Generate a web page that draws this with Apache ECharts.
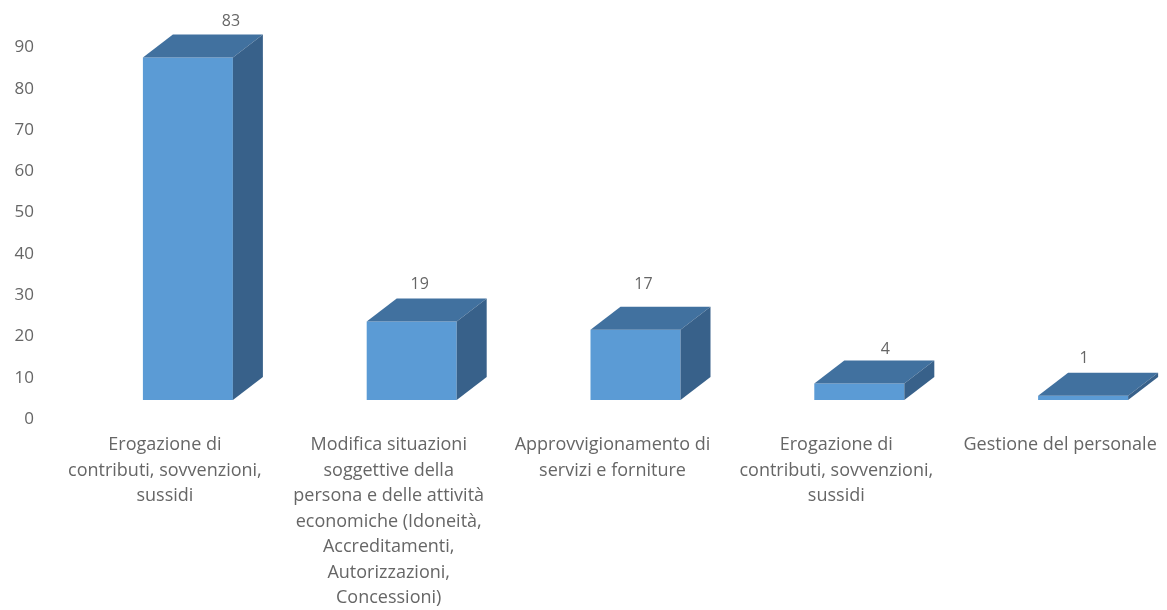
<!DOCTYPE html>
<html>
<head>
<meta charset="utf-8">
<style>html,body{margin:0;padding:0;background:#fff}#c{width:1167px;height:610px}</style>
<script src="https://cdn.jsdelivr.net/npm/echarts@6/dist/echarts.min.js"></script>
</head>
<body>
<div id="c"></div>
<script>
var categories = [
  "Erogazione di\ncontributi, sovvenzioni,\nsussidi",
  "Modifica situazioni\nsoggettive della\npersona e delle attività\neconomiche (Idoneità,\nAccreditamenti,\nAutorizzazioni,\nConcessioni)",
  "Approvvigionamento di\nservizi e forniture",
  "Erogazione di\ncontributi, sovvenzioni,\nsussidi",
  "Gestione del personale"
];
var values = [83, 19, 17, 4, 1];
var yTicks = { min: 0, max: 90, interval: 10 };

// visual style of the pseudo-3D bars
var FRONT = '#5b9bd5', TOP = '#41719f', SIDE = '#38618a', TEXT = '#666666';
var FONT = '"Open Sans", "Noto Sans", sans-serif';
var barW = 90, depthX = 30, depthY = 23, lift = 19, shiftX = 23;
// hand-placed data label nudges of the reference (dx, dy from the back top edge centre)
var labelNudge = [[13, -13], [-22, -14], [-22, -22], [-4, -11], [-29, -14]];

var chart = echarts.init(document.getElementById('c'), null, { renderer: 'canvas' });
chart.setOption({
  animation: false,
  backgroundColor: '#ffffff',
  grid: { left: 53, top: 47.5, width: 1119, height: 371.5, containLabel: false, outerBoundsMode: 'none' },
  xAxis: {
    type: 'category',
    data: categories,
    axisLine: { show: false },
    axisTick: { show: false },
    axisLabel: {
      interval: 0, color: TEXT, fontFamily: FONT, fontSize: 18,
      lineHeight: 25.5, margin: 13.5, verticalAlign: 'top', hideOverlap: false
    }
  },
  yAxis: {
    type: 'value',
    min: yTicks.min, max: yTicks.max, interval: yTicks.interval,
    axisLine: { show: false },
    axisTick: { show: false },
    splitLine: { show: false },
    axisLabel: { color: TEXT, fontFamily: FONT, fontSize: 17, margin: 19, align: 'right' }
  },
  series: [{
    type: 'custom',
    coordinateSystem: 'cartesian2d',
    data: values.map(function (v, i) { return [i, v]; }),
    encode: { x: 0, y: 1 },
    clip: false,
    renderItem: function (params, api) {
      var i = api.value(0), v = api.value(1);
      var base = api.coord([i, 0]), peak = api.coord([i, v]);
      var x0 = base[0] + shiftX - barW / 2, x1 = x0 + barW;
      var yb = base[1] - lift, yt = peak[1] - lift;
      var n = labelNudge[i];
      return {
        type: 'group',
        children: [
          { type: 'rect', shape: { x: x0, y: yt, width: barW, height: yb - yt }, style: { fill: FRONT } },
          { type: 'polygon', shape: { points: [[x0, yt], [x0 + depthX, yt - depthY], [x1 + depthX, yt - depthY], [x1, yt]] }, style: { fill: TOP } },
          { type: 'polygon', shape: { points: [[x1, yt], [x1 + depthX, yt - depthY], [x1 + depthX, yb - depthY], [x1, yb]] }, style: { fill: SIDE } },
          { type: 'text', style: {
              x: (x0 + x1 + depthX * 2) / 2 + n[0], y: yt - depthY + n[1],
              text: String(v), fill: TEXT, font: '16px ' + FONT,
              align: 'center', verticalAlign: 'middle'
          } }
        ]
      };
    }
  }]
});
</script>
</body>
</html>
